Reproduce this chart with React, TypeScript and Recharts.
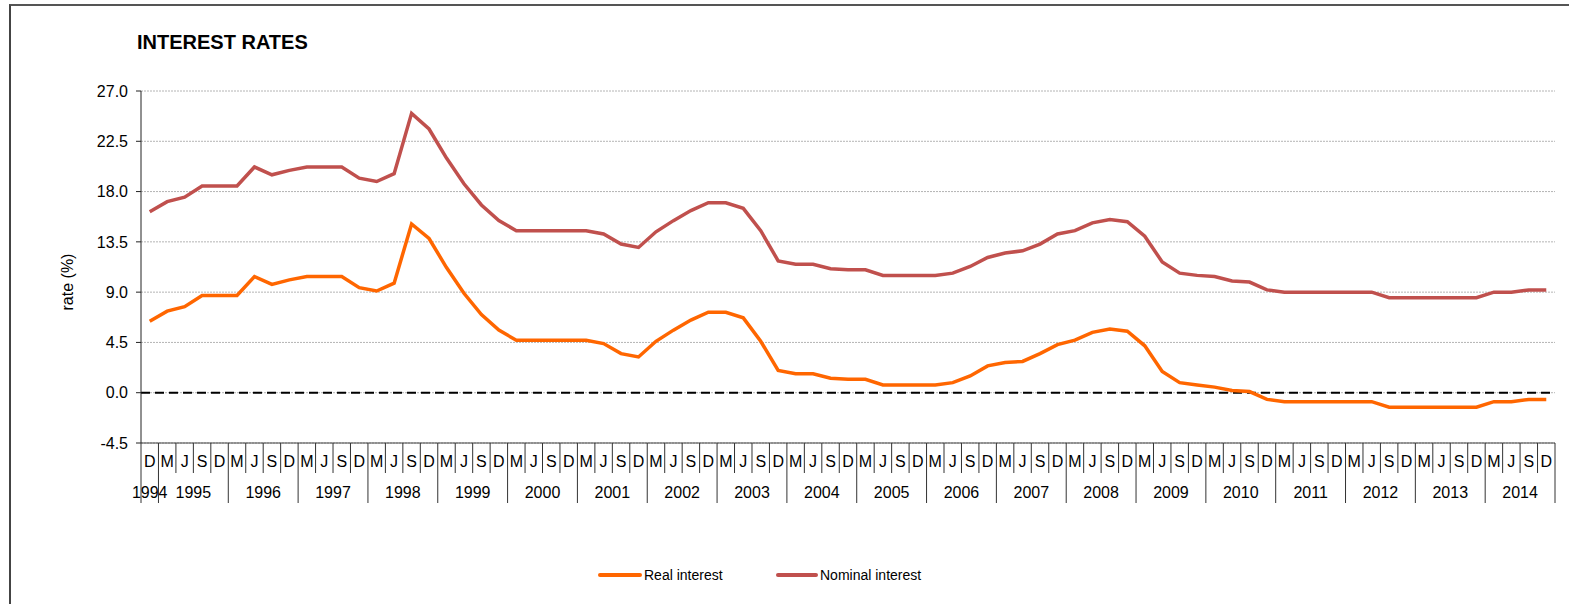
import {
  CartesianGrid,
  Line,
  LineChart,
  ReferenceLine,
  XAxis,
  YAxis,
} from "recharts";

// quarter letters and the years they belong to
const quarterLetters = ["M", "J", "S", "D"];
const years = [
  "1994", "1995", "1996", "1997", "1998", "1999", "2000", "2001", "2002", "2003", "2004",
  "2005", "2006", "2007", "2008", "2009", "2010", "2011", "2012", "2013", "2014",
];

// rate (%) per quarter, Dec 1994 .. Dec 2014
const nominalInterest = [
  16.2,
  17.1, 17.5, 18.5, 18.5,
  18.5, 20.2, 19.5, 19.9,
  20.2, 20.2, 20.2, 19.2,
  18.9, 19.6, 25.0, 23.6,
  21.0, 18.7, 16.8, 15.4,
  14.5, 14.5, 14.5, 14.5,
  14.5, 14.2, 13.3, 13.0,
  14.4, 15.4, 16.3, 17.0,
  17.0, 16.5, 14.5, 11.8,
  11.5, 11.5, 11.1, 11.0,
  11.0, 10.5, 10.5, 10.5,
  10.5, 10.7, 11.3, 12.1,
  12.5, 12.7, 13.3, 14.2,
  14.5, 15.2, 15.5, 15.3,
  14.0, 11.7, 10.7, 10.5,
  10.4, 10.0, 9.9, 9.2,
  9.0, 9.0, 9.0, 9.0,
  9.0, 9.0, 8.5, 8.5,
  8.5, 8.5, 8.5, 8.5,
  9.0, 9.0, 9.2, 9.2,
];

const realInterest = [
  6.4,
  7.3, 7.7, 8.7, 8.7,
  8.7, 10.4, 9.7, 10.1,
  10.4, 10.4, 10.4, 9.4,
  9.1, 9.8, 15.1, 13.8,
  11.2, 8.9, 7.0, 5.6,
  4.7, 4.7, 4.7, 4.7,
  4.7, 4.4, 3.5, 3.2,
  4.6, 5.6, 6.5, 7.2,
  7.2, 6.7, 4.6, 2.0,
  1.7, 1.7, 1.3, 1.2,
  1.2, 0.7, 0.7, 0.7,
  0.7, 0.9, 1.5, 2.4,
  2.7, 2.8, 3.5, 4.3,
  4.7, 5.4, 5.7, 5.5,
  4.2, 1.9, 0.9, 0.7,
  0.5, 0.2, 0.1, -0.6,
  -0.8, -0.8, -0.8, -0.8,
  -0.8, -0.8, -1.3, -1.3,
  -1.3, -1.3, -1.3, -1.3,
  -0.8, -0.8, -0.6, -0.6,
];

const yTicks = [-4.5, 0, 4.5, 9, 13.5, 18, 22.5, 27];

const REAL_COLOR = "#FF6600";
const NOMINAL_COLOR = "#C0504D";
const FONT = "'Liberation Sans', Arial, sans-serif";

const PLOT_WIDTH = 1414;

// first period is Dec 1994, then every quarter of 1995..2014
const periods = [{ year: years[0], q: "D" }].concat(
  years.slice(1).flatMap((year) => quarterLetters.map((q) => ({ year, q })))
);

const data = periods.map((p, i) => ({
  key: `${p.q}-${p.year}`,
  q: p.q,
  year: p.year,
  real: realInterest[i],
  nominal: nominalInterest[i],
}));

// half a category slot on each side, so points sit in the middle of their slot
const halfSlot = PLOT_WIDTH / data.length / 2;

const QuarterTick = (props: any) => {
  const { x, y, payload } = props;
  const i = payload.index;
  const band = PLOT_WIDTH / data.length;
  const left = x - band / 2;
  const right = x + band / 2;
  const row = data[i];
  const startsGroup = i === 0 || row.q === "M";
  const isLast = i === data.length - 1;
  let yearX: number | null = null;
  if (i === 0) yearX = x;
  else if (row.q === "J") yearX = right;

  return (
    <g>
      <line x1={left} x2={left} y1={y} y2={startsGroup ? y + 60 : y + 30} stroke="#333" strokeWidth={1} />
      {isLast && <line x1={right} x2={right} y1={y} y2={y + 60} stroke="#333" strokeWidth={1} />}
      <text x={x} y={y + 24} textAnchor="middle" fontSize={16} fontFamily={FONT} fill="#000">
        {row.q}
      </text>
      {yearX !== null && (
        <text x={yearX} y={y + 55} textAnchor="middle" fontSize={16} fontFamily={FONT} fill="#000">
          {row.year}
        </text>
      )}
    </g>
  );
};

export default function App() {
  return (
    <div
      style={{
        position: "absolute",
        left: 0,
        top: 0,
        width: 1569,
        height: 604,
        overflow: "hidden",
        background: "#fff",
        fontFamily: FONT,
      }}
    >
      <div
        style={{
          position: "absolute",
          left: 9,
          top: 4,
          width: 1600,
          height: 700,
          borderTop: "2px solid #555",
          borderLeft: "2px solid #444",
        }}
      />
      <LineChart
        width={1569}
        height={604}
        data={data}
        margin={{ top: 91, right: 14, bottom: 101, left: 0 }}
        style={{ position: "absolute", left: 0, top: 0 }}
      >
        <CartesianGrid vertical={false} stroke="#b4b4b4" strokeDasharray="2 1" />
        <XAxis
          dataKey="key"
          interval={0}
          height={60}
          padding={{ left: halfSlot, right: halfSlot }}
          tickSize={0}
          tickMargin={0}
          tickLine={false}
          axisLine={{ stroke: "#444" }}
          tick={<QuarterTick />}
        />
        <YAxis
          width={141}
          domain={[-4.5, 27]}
          ticks={yTicks}
          tickFormatter={(v: number) => v.toFixed(1)}
          tickSize={5}
          tickMargin={8}
          axisLine={{ stroke: "#222" }}
          tickLine={{ stroke: "#222" }}
          tick={{ fontSize: 16, fontFamily: FONT, fill: "#000" }}
          allowDataOverflow
        />
        <ReferenceLine y={0} stroke="#000" strokeWidth={2} strokeDasharray="9 5" />
        <Line
          type="linear"
          dataKey="real"
          name="Real interest"
          stroke={REAL_COLOR}
          strokeWidth={3.5}
          dot={false}
          isAnimationActive={false}
        />
        <Line
          type="linear"
          dataKey="nominal"
          name="Nominal interest"
          stroke={NOMINAL_COLOR}
          strokeWidth={3.5}
          dot={false}
          isAnimationActive={false}
        />
      </LineChart>
      <svg
        width={1569}
        height={604}
        style={{ position: "absolute", left: 0, top: 0, pointerEvents: "none" }}
      >
        <text x={137} y={49} fontSize={20} fontWeight="bold" fontFamily={FONT} fill="#000">
          INTEREST RATES
        </text>
        <text
          transform="translate(73 282) rotate(-90)"
          textAnchor="middle"
          fontSize={16}
          fontFamily={FONT}
          fill="#000"
        >
          rate (%)
        </text>
        <line x1={600} x2={640} y1={575} y2={575} stroke={REAL_COLOR} strokeWidth={4} strokeLinecap="round" />
        <text x={644} y={580} fontSize={14} fontFamily={FONT} fill="#000">
          Real interest
        </text>
        <line x1={778} x2={816} y1={575} y2={575} stroke={NOMINAL_COLOR} strokeWidth={4} strokeLinecap="round" />
        <text x={820} y={580} fontSize={14} fontFamily={FONT} fill="#000">
          Nominal interest
        </text>
      </svg>
    </div>
  );
}
